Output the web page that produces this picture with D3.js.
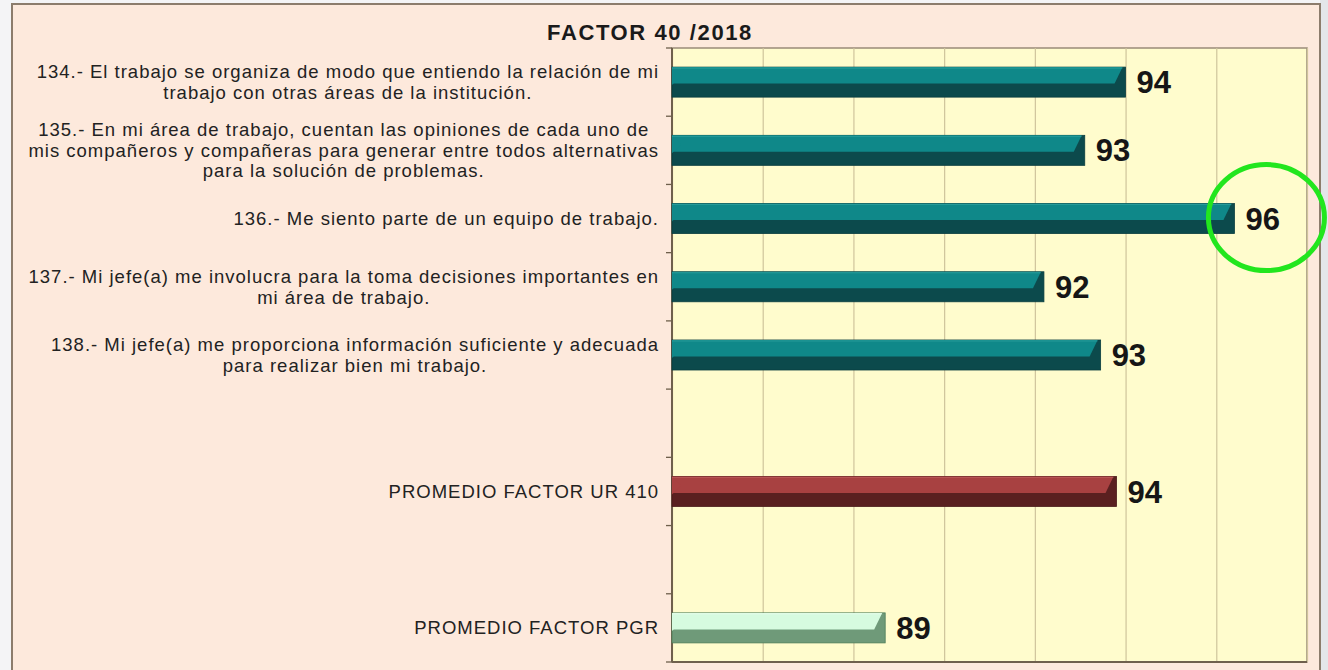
<!DOCTYPE html>
<html>
<head>
<meta charset="utf-8">
<script src="https://cdn.jsdelivr.net/npm/d3@7"></script>
<style>
  html, body { margin: 0; padding: 0; background: #ffffff; }
  svg { display: block; }
</style>
</head>
<body>
<svg id="chart" width="1328" height="670"></svg>
<script>
// ---------------- data ----------------
const title = "FACTOR 40 /2018";
const categories = [
  "134.- El trabajo se organiza de modo que entiendo la relación de mi\ntrabajo con otras áreas de la institución.",
  "135.- En mi área de trabajo, cuentan las opiniones de cada uno de\nmis compañeros y compañeras para generar entre todos alternativas\npara la solución de problemas.",
  "136.- Me siento parte de un equipo de trabajo.",
  "137.- Mi jefe(a) me involucra para la toma decisiones importantes en\nmi área de trabajo.",
  "138.- Mi jefe(a) me proporciona información suficiente y adecuada\npara realizar bien mi trabajo.",
  "",
  "PROMEDIO FACTOR UR 410",
  "",
  "PROMEDIO FACTOR PGR"
];
const slotKeys = ["134", "135", "136", "137", "138", "gap1", "UR410", "gap2", "PGR"];
const values = [94.0, 93.1, 96.4, 92.2, 93.45, null, 93.8, null, 88.7];
const barKind = ["item", "item", "item", "item", "item", null, "ur", null, "pgr"];
const xTicks = [84, 86, 88, 90, 92, 94, 96, 98];
const highlighted = "136";

// ---------------- styles ----------------
const palette = {
  item: { top: "#0f8889", bottom: "#0c4a4c", edge: "#0a3e40", hi: "#3fb0ac" },
  ur:   { top: "#a84141", bottom: "#5a2020", edge: "#4a1a1a", hi: "#c86a6a" },
  pgr:  { top: "#d6fbdf", bottom: "#6f9a79", edge: "#4d7d58", hi: "#f2fff4" }
};

const W = 1328, H = 670;
const svg = d3.select("#chart");

// page background outside the frame
svg.append("rect").attr("x", 0).attr("y", 0).attr("width", W).attr("height", H).attr("fill", "#f4f4f6");
svg.append("rect").attr("x", 1320).attr("y", 0).attr("width", 8).attr("height", H).attr("fill", "#e4e6ea");

// chart frame
svg.append("rect")
  .attr("x", 12).attr("y", 4).attr("width", 1308).attr("height", 680)
  .attr("fill", "#fde9dc").attr("stroke", "#8c7c6c").attr("stroke-width", 2);

const plot = { left: 672, right: 1307, top: 48, bottom: 662 };

const x = d3.scaleLinear().domain([xTicks[0], xTicks[xTicks.length - 1]]).range([plot.left, plot.right]);
const y = d3.scaleBand().domain(slotKeys).range([plot.top, plot.bottom]).paddingInner(0.56).paddingOuter(0.28);

// plot area
svg.append("rect")
  .attr("x", plot.left).attr("y", plot.top)
  .attr("width", plot.right - plot.left).attr("height", plot.bottom - plot.top)
  .attr("fill", "#fffccd").attr("stroke", "#9a8a78").attr("stroke-width", 1.5);

// vertical gridlines
const xAxis = d3.axisBottom(x).tickValues(xTicks).tickSize(-(plot.bottom - plot.top)).tickFormat("");
const gx = svg.append("g").attr("transform", `translate(0,${plot.bottom})`).call(xAxis);
gx.select(".domain").remove();
gx.selectAll(".tick line").attr("stroke", "#cfc49c").attr("stroke-width", 1.2);

// category axis ticks (slot boundaries)
const step = y.step();
const boundaries = d3.range(slotKeys.length + 1).map(i => plot.top + i * step);
svg.append("g").selectAll("line").data(boundaries).join("line")
  .attr("x1", plot.left - 6).attr("x2", plot.left)
  .attr("y1", d => d).attr("y2", d => d)
  .attr("stroke", "#6f604c").attr("stroke-width", 1.3);

// axis lines
svg.append("line").attr("x1", plot.left).attr("x2", plot.left).attr("y1", plot.top).attr("y2", plot.bottom)
  .attr("stroke", "#6f604c").attr("stroke-width", 2);
svg.append("line").attr("x1", plot.left).attr("x2", plot.right).attr("y1", plot.bottom).attr("y2", plot.bottom)
  .attr("stroke", "#6f604c").attr("stroke-width", 2);

// bars
const rows = slotKeys.map((k, i) => ({ key: k, value: values[i], kind: barKind[i], label: categories[i] }))
  .filter(d => d.value != null);

const bh = y.bandwidth();
const x0 = x(x.domain()[0]);
const bars = svg.append("g").selectAll("g.bar").data(rows).join("g").attr("class", "bar");

bars.append("rect")
  .attr("x", x0)
  .attr("y", d => y(d.key))
  .attr("width", d => x(d.value) - x0)
  .attr("height", bh)
  .attr("fill", d => palette[d.kind].bottom)
  .attr("stroke", d => palette[d.kind].edge).attr("stroke-width", 0.8);

bars.append("path")
  .attr("d", d => {
    const x1 = x(d.value) - 3, y0 = y(d.key), yh = y0 + bh * 0.55;
    return `M${x0},${y0} L${x1},${y0} L${x1 - 8},${yh} L${x0},${yh} Z`;
  })
  .attr("fill", d => palette[d.kind].top);

// left bevel
bars.append("path")
  .attr("d", d => {
    const y0 = y(d.key);
    return `M${x0},${y0} L${x0 + 9},${y0 + bh * 0.3} L${x0},${y0 + bh * 0.6} Z`;
  })
  .attr("fill", d => palette[d.kind].top).attr("opacity", 0.9);

// top highlight
bars.append("line")
  .attr("x1", x0).attr("x2", d => x(d.value) - 3)
  .attr("y1", d => y(d.key) + 1).attr("y2", d => y(d.key) + 1)
  .attr("stroke", d => palette[d.kind].hi).attr("stroke-width", 1).attr("opacity", 0.5);

// value labels
bars.append("text")
  .attr("x", d => x(d.value) + 11)
  .attr("y", d => y(d.key) + bh / 2)
  .attr("dy", "0.36em")
  .attr("font-family", "'Liberation Sans', Arial, sans-serif")
  .attr("font-weight", "bold")
  .attr("font-size", 31)
  .attr("fill", "#161616")
  .text(d => d3.format(".0f")(d.value));

// category labels: lines centered in block, block right-aligned to axis
const labelRight = 659, lineH = 20.5, labelFont = 18.5;
const labelG = svg.append("g")
  .attr("font-family", "'Liberation Sans', Arial, sans-serif")
  .attr("font-size", labelFont)
  .attr("letter-spacing", "1px")
  .attr("fill", "#222");

rows.forEach(d => {
  const lines = d.label.split("\n");
  const g = labelG.append("g");
  const cy = y(d.key) + bh / 2;
  const texts = lines.map((ln, i) => g.append("text")
    .attr("y", cy + (i - (lines.length - 1) / 2) * lineH)
    .attr("dy", "0.35em")
    .attr("text-anchor", "middle")
    .text(ln));
  const maxW = d3.max(texts, t => t.node().getComputedTextLength());
  texts.forEach(t => t.attr("x", labelRight - maxW / 2));
});

// title
svg.append("text")
  .attr("x", 650).attr("y", 40)
  .attr("text-anchor", "middle")
  .attr("font-family", "'Liberation Sans', Arial, sans-serif")
  .attr("font-weight", "bold")
  .attr("font-size", 22)
  .attr("letter-spacing", "1.6px")
  .attr("fill", "#1a1a1a")
  .text(title);

// highlight annotation circle around the maximum value label
const hv = values[slotKeys.indexOf(highlighted)];
svg.append("ellipse")
  .attr("cx", x(hv) + 32)
  .attr("cy", y(highlighted) + bh / 2 - 1)
  .attr("rx", 58).attr("ry", 53)
  .attr("fill", "none")
  .attr("stroke", "#22e61e")
  .attr("stroke-width", 5);
</script>
</body>
</html>
